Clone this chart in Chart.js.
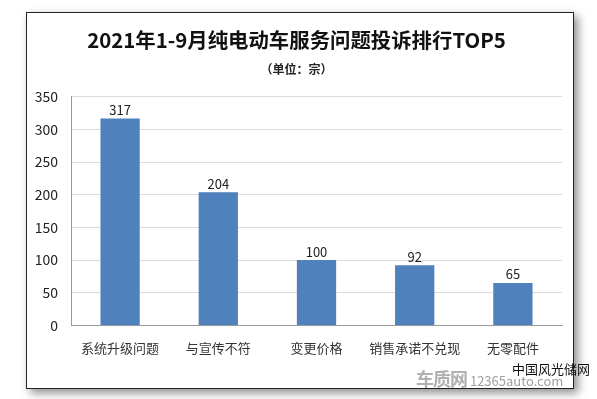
<!DOCTYPE html>
<html>
<head>
<meta charset="utf-8">
<script src="https://cdn.jsdelivr.net/npm/chart.js@4"></script>
<style>
  body { margin: 0; background: #fff; width: 597px; height: 399px; position: relative; overflow: hidden; font-family: "Noto Sans CJK SC", sans-serif; }
  #frame { position: absolute; left: 26px; top: 12px; width: 546px; height: 375px; border: 1px solid #222; box-shadow: 4px 4px 9px rgba(0,0,0,0.45); background: #fff; }
  .wm { position: absolute; white-space: nowrap; line-height: 1; }
  #wm1 { left: 512px; top: 362px; font-size: 13px; color: #111; }
  #wm2 { left: 416px; top: 369px; font-size: 13px; color: #a0a0a0; }
  #wm2 b { font-size: 18px; color: #b0b0b0; letter-spacing: -1px; }
</style>
</head>
<body>
<div id="frame"><canvas id="chart" width="546" height="375"></canvas></div>
<div id="wm2" class="wm"><b>车质网</b> 12365auto.com</div>
<div id="wm1" class="wm">中国风光储网</div>
<script>
// --- Data ---
const categories = ["系统升级问题", "与宣传不符", "变更价格", "销售承诺不兑现", "无零配件"];
const complaints = [317, 204, 100, 92, 65];
const yTicks = [0, 50, 100, 150, 200, 250, 300, 350];

// --- Value labels above bars ---
const valueLabels = {
  id: "valueLabels",
  afterDatasetsDraw(chart) {
    const c = chart.ctx;
    c.save();
    c.font = "13px 'Noto Sans CJK SC', sans-serif";
    c.fillStyle = "#222";
    c.textAlign = "center";
    c.textBaseline = "bottom";
    chart.getDatasetMeta(0).data.forEach((bar, i) => {
      c.fillText(complaints[i], bar.x, bar.y - 2);
    });
    c.restore();
  }
};

const ctx = document.getElementById("chart").getContext("2d");
new Chart(ctx, {
  type: "bar",
  data: {
    labels: categories,
    datasets: [{
      data: complaints,
      backgroundColor: "#4f81bd",
      categoryPercentage: 1,
      barPercentage: 0.4
    }]
  },
  options: {
    responsive: false,
    animation: false,
    layout: { padding: { left: 4, right: 11, top: 0, bottom: 25 } },
    plugins: {
      legend: { display: false },
      tooltip: { enabled: false },
      title: {
        display: true,
        text: "2021年1-9月纯电动车服务问题投诉排行TOP5",
        color: "#111",
        font: { family: "'Noto Sans CJK SC', sans-serif", size: 20.4, weight: "bold" },
        padding: { top: 15, bottom: 10 }
      },
      subtitle: {
        display: true,
        text: "（单位：宗）",
        color: "#222",
        font: { family: "'Noto Sans CJK SC', sans-serif", size: 12, weight: "bold" },
        padding: { bottom: 20 }
      }
    },
    scales: {
      x: {
        grid: { display: false },
        border: { color: "#999" },
        ticks: { color: "#333", font: { family: "'Noto Sans CJK SC', sans-serif", size: 13 }, padding: 7 }
      },
      y: {
        min: 0,
        max: 350,
        afterBuildTicks(axis) { axis.ticks = yTicks.map(v => ({ value: v })); },
        afterFit(axis) { axis.width = 40; },
        grid: { color: "#dcdcdc", drawTicks: false },
        border: { color: "#999" },
        ticks: { color: "#222", font: { family: "'Noto Sans CJK SC', sans-serif", size: 14 }, padding: 13 }
      }
    }
  },
  plugins: [valueLabels]
});
</script>
</body>
</html>
